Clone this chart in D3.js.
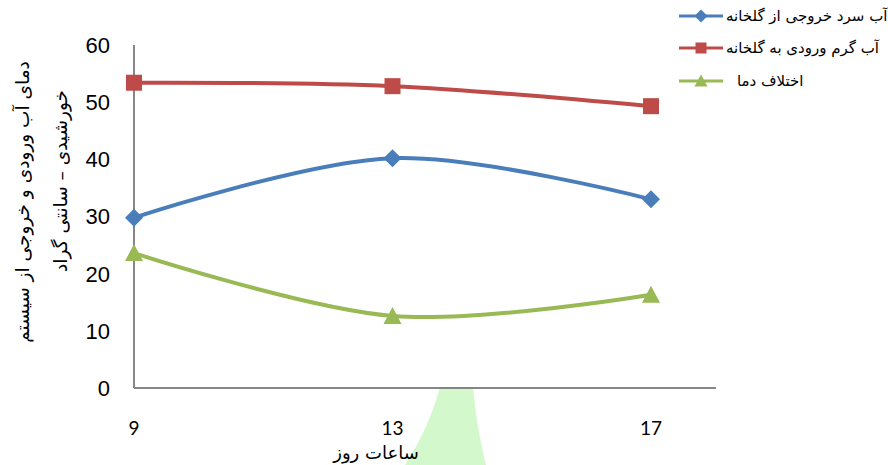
<!DOCTYPE html>
<html>
<head>
<meta charset="utf-8">
<script src="https://cdn.jsdelivr.net/npm/d3@7"></script>
<style>
  html, body { margin: 0; padding: 0; background: #fff; }
  svg { display: block; }
</style>
</head>
<body>
<svg id="chart" width="888" height="465"></svg>
<script>
// Hours of the day on the category axis
const hours = ["9", "13", "17"];
// Water temperatures (°C)
const coldOut = [29.8, 40.2, 33.0];   // outlet water from the greenhouse
const hotIn   = [53.4, 52.8, 49.3];   // inlet water to the greenhouse
const diff    = [23.6, 12.6, 16.3];   // temperature difference
const yTicks  = [0, 10, 20, 30, 40, 50, 60];

const seriesNames = ["آب سرد خروجی از گلخانه", "آب گرم ورودی به گلخانه", "اختلاف دما"];
const xTitle = "ساعات روز";
const yTitle1 = "دمای آب ورودی و خروجی از سیستم";
const yTitle2 = "خورشیدی – سانتی گراد";

const series = [
  { name: seriesNames[0], values: coldOut, color: "#4A7EBB", marker: "diamond" },
  { name: seriesNames[1], values: hotIn,   color: "#BE4B48", marker: "square" },
  { name: seriesNames[2], values: diff,    color: "#98B954", marker: "triangle" }
];

const svg = d3.select("#chart");
const plotLeft = 134, plotRight = 716, plotTop = 45, plotBottom = 388;

const x = d3.scalePoint().domain(hours).range([plotLeft, 651]);
const y = d3.scaleLinear().domain([0, 60]).range([plotBottom, plotTop]);

// Light green shape below the axis
svg.append("path")
  .attr("d", "M440,388 L473,388 Q477,430 486,465 L405,465 Q428,430 440,388 Z")
  .attr("fill", "#D3F8CC");

// Axes lines
svg.append("line").attr("x1", plotLeft).attr("x2", plotLeft).attr("y1", plotTop).attr("y2", plotBottom)
  .attr("stroke", "#868686").attr("stroke-width", 2);
svg.append("line").attr("x1", plotLeft).attr("x2", plotRight).attr("y1", plotBottom).attr("y2", plotBottom)
  .attr("stroke", "#868686").attr("stroke-width", 2);

// Y tick labels
svg.append("g").selectAll("text").data(yTicks).join("text")
  .attr("x", 110).attr("y", d => y(d)).attr("dy", "0.36em")
  .attr("text-anchor", "end")
  .attr("font-family", "Liberation Sans, Arial, sans-serif")
  .attr("font-size", 22)
  .attr("fill", "#000")
  .text(d => d);

// X tick labels
svg.append("g").selectAll("text").data(hours).join("text")
  .attr("x", d => x(d)).attr("y", 435)
  .attr("text-anchor", "middle")
  .attr("font-family", "Lato, 'Open Sans', sans-serif")
  .attr("font-size", 19)
  .attr("fill", "#000")
  .text(d => d);

// Axis titles
svg.append("text")
  .attr("x", 376).attr("y", 459)
  .attr("text-anchor", "middle")
  .attr("font-family", "'DejaVu Sans', sans-serif")
  .attr("font-size", 18)
  .text(xTitle);

const yt = svg.append("g")
  .attr("font-family", "'DejaVu Sans', sans-serif")
  .attr("font-size", 18.5)
  .attr("text-anchor", "middle");
yt.append("text").attr("transform", "translate(29,202) rotate(-90)").text(yTitle1);
yt.append("text").attr("transform", "translate(67,181) rotate(-90)").text(yTitle2);

// Lines
const line = d3.line()
  .x((d, i) => x(hours[i]))
  .y(d => y(d))
  .curve(d3.curveCardinal.tension(0));

svg.append("g").selectAll("path").data(series).join("path")
  .attr("d", s => line(s.values))
  .attr("fill", "none")
  .attr("stroke", s => s.color)
  .attr("stroke-width", 4)
  .attr("stroke-linecap", "round");

// Markers
function markerPath(kind, size) {
  const h = size / 2;
  if (kind === "diamond") return `M0,${-h - 1}L${h + 1},0L0,${h + 1}L${-h - 1},0Z`;
  if (kind === "square") return `M${-h},${-h}H${h}V${h}H${-h}Z`;
  return `M0,${-h - 1}L${h + 1},${h}L${-h - 1},${h}Z`;
}

series.forEach(s => {
  svg.append("g").selectAll("path").data(s.values).join("path")
    .attr("transform", (d, i) => `translate(${x(hours[i])},${y(d)})`)
    .attr("d", markerPath(s.marker, 16))
    .attr("fill", s.color);
});

// Legend
const legend = svg.append("g");
const rowY = [16, 48, 81];
series.forEach((s, i) => {
  const g = legend.append("g").attr("transform", `translate(0,${rowY[i]})`);
  g.append("line").attr("x1", 679).attr("x2", 723).attr("y1", 0).attr("y2", 0)
    .attr("stroke", s.color).attr("stroke-width", 3);
  g.append("path").attr("transform", "translate(701,0)")
    .attr("d", markerPath(s.marker, 11)).attr("fill", s.color);
  g.append("text").attr("x", i === 2 ? 737 : 726).attr("y", 0).attr("dy", "0.35em")
    .attr("font-family", "'DejaVu Sans', sans-serif")
    .attr("font-size", 15)
    .attr("direction", "ltr")
    .attr("text-anchor", "start")
    .text(s.name);
});
</script>
</body>
</html>
